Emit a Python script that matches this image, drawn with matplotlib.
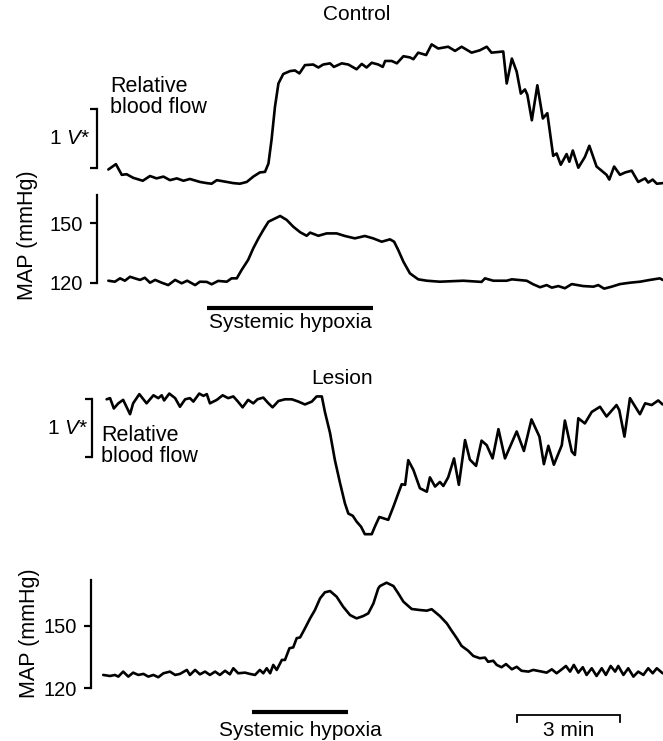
import numpy as np
import matplotlib
matplotlib.use('Agg')
import matplotlib.pyplot as plt

plt.rcParams['font.family'] = ['Liberation Sans', 'DejaVu Sans']
plt.rcParams['mathtext.fontset'] = 'custom'
plt.rcParams['mathtext.rm'] = 'Liberation Sans'
plt.rcParams['mathtext.it'] = 'Liberation Sans:italic'

# ---- data (time in min, flow in V*, MAP in mmHg) ----
ctrl_flow_t = [0.01, 0.23, 0.40, 0.54, 0.73, 1.01, 1.22, 1.41, 1.61, 1.80, 2.00, 2.19, 2.38, 2.67,
               2.87, 3.01, 3.16, 3.45, 3.64, 3.83, 4.03, 4.22, 4.41, 4.56, 4.66, 4.75, 4.85, 4.95,
               5.09, 5.29, 5.43, 5.56, 5.72, 5.96, 6.11, 6.25, 6.45, 6.56, 6.79, 6.98, 7.22, 7.37,
               7.51, 7.66, 7.85, 7.98, 8.05, 8.24, 8.39, 8.58, 8.77, 8.87, 9.01, 9.24, 9.40, 9.59,
               9.88, 10.08, 10.27, 10.56, 10.80, 11.00, 11.14, 11.48, 11.58, 11.73, 11.87, 11.99,
               12.11, 12.18, 12.31, 12.47, 12.63, 12.76, 12.93, 13.03, 13.15, 13.32, 13.40, 13.50,
               13.66, 13.85, 13.98, 14.19, 14.48, 14.56, 14.70, 14.87, 15.02, 15.21, 15.40, 15.60,
               15.69, 15.82, 15.94, 16.11]
ctrl_flow_v = [-0.02, 0.07, -0.11, -0.10, -0.16, -0.21, -0.13, -0.17, -0.14, -0.20, -0.17, -0.21,
               -0.18, -0.23, -0.25, -0.26, -0.20, -0.23, -0.25, -0.26, -0.23, -0.14, -0.07, -0.06,
               0.08, 0.48, 1.04, 1.43, 1.59, 1.64, 1.65, 1.60, 1.74, 1.75, 1.70, 1.75, 1.77, 1.71,
               1.77, 1.75, 1.67, 1.76, 1.70, 1.78, 1.75, 1.71, 1.81, 1.81, 1.77, 1.89, 1.87, 1.84,
               1.95, 1.91, 2.09, 2.02, 2.05, 1.98, 2.05, 1.95, 1.99, 2.05, 1.95, 1.97, 1.43, 1.85,
               1.63, 1.26, 1.33, 1.24, 0.81, 1.40, 0.84, 0.93, 0.21, 0.25, 0.06, 0.24, 0.11, 0.30,
               0.01, 0.19, 0.38, 0.03, -0.11, -0.19, 0.03, -0.11, -0.07, -0.04, -0.23, -0.17, -0.24,
               -0.19, -0.26, -0.25]

ctrl_map_t = [0.01, 0.20, 0.35, 0.49, 0.64, 0.78, 0.93, 1.07, 1.22, 1.37, 1.56, 1.75, 1.95, 2.14,
              2.30, 2.53, 2.67, 2.87, 3.01, 3.20, 3.45, 3.59, 3.74, 3.88, 4.07, 4.22, 4.37, 4.51,
              4.66, 4.80, 5.00, 5.19, 5.38, 5.58, 5.77, 5.87, 6.11, 6.35, 6.64, 6.88, 7.17, 7.46,
              7.70, 7.95, 8.19, 8.31, 8.43, 8.58, 8.77, 9.01, 9.26, 9.64, 10.32, 10.85, 10.95,
              11.19, 11.58, 11.73, 12.16, 12.35, 12.55, 12.74, 12.89, 13.08, 13.27, 13.47, 13.80,
              14.10, 14.24, 14.41, 14.63, 14.87, 15.16, 15.45, 15.74, 16.03, 16.11]
ctrl_map_p = [121.0, 120.5, 122.2, 121.0, 123.0, 122.2, 121.4, 122.5, 120.0, 121.4, 120.0, 118.8,
              121.4, 119.7, 121.0, 118.8, 120.5, 120.4, 119.2, 120.9, 120.5, 122.2, 122.2, 126.4,
              131.5, 137.4, 142.4, 146.6, 150.8, 152.0, 153.7, 151.7, 148.3, 145.5, 143.7, 145.3,
              143.7, 144.9, 144.9, 143.6, 142.4, 143.6, 142.4, 140.7, 141.9, 140.7, 136.5, 130.6,
              124.7, 121.7, 121.0, 120.5, 121.0, 120.4, 122.2, 121.0, 121.0, 121.7, 121.0, 119.2,
              117.7, 118.8, 117.5, 118.3, 117.2, 119.3, 118.3, 118.0, 118.8, 117.0, 118.0, 119.3,
              120.0, 120.5, 121.4, 122.2, 121.4]

les_flow_t = [-0.04, 0.06, 0.17, 0.30, 0.44, 0.64, 0.73, 0.91, 1.12, 1.32, 1.46, 1.56, 1.63, 1.78,
              1.95, 2.09, 2.24, 2.38, 2.48, 2.65, 2.77, 2.87, 2.96, 3.16, 3.33, 3.49, 3.64, 3.76,
              3.91, 4.07, 4.22, 4.34, 4.51, 4.66, 4.78, 4.95, 5.14, 5.34, 5.53, 5.72, 5.92, 6.06,
              6.21, 6.30, 6.45, 6.59, 6.74, 6.88, 6.98, 7.11, 7.22, 7.35, 7.46, 7.66, 7.75, 7.88,
              8.14, 8.29, 8.43, 8.53, 8.63, 8.72, 8.87, 9.06, 9.26, 9.35, 9.50, 9.64, 9.74, 9.88,
              10.05, 10.19, 10.37, 10.51, 10.69, 10.85, 11.00, 11.17, 11.34, 11.53, 11.87, 12.08,
              12.30, 12.53, 12.66, 12.79, 12.95, 13.18, 13.27, 13.47, 13.56, 13.66, 13.85, 14.05,
              14.29, 14.48, 14.77, 14.85, 15.00, 15.16, 15.45, 15.60, 15.79, 15.98, 16.11]
les_flow_v = [1.00, 1.02, 0.84, 0.93, 0.99, 0.74, 0.93, 1.09, 0.93, 1.07, 1.02, 1.07, 0.98, 1.10,
              1.02, 0.87, 1.00, 1.02, 0.96, 1.10, 1.06, 1.09, 0.93, 0.99, 1.07, 1.02, 1.05, 0.97,
              0.86, 0.99, 0.93, 1.00, 1.03, 0.93, 0.86, 0.97, 1.00, 1.00, 0.96, 0.91, 0.96, 1.05,
              1.05, 0.78, 0.41, -0.06, -0.46, -0.81, -0.99, -1.03, -1.13, -1.22, -1.35, -1.35,
              -1.22, -1.05, -1.10, -0.87, -0.64, -0.48, -0.49, -0.06, -0.23, -0.55, -0.61, -0.36,
              -0.52, -0.44, -0.51, -0.36, -0.03, -0.49, 0.29, -0.05, -0.16, 0.28, 0.20, -0.03,
              0.48, -0.03, 0.44, 0.10, 0.65, 0.35, -0.13, 0.19, -0.14, 0.20, 0.63, 0.09, 0.03,
              0.67, 0.58, 0.78, 0.87, 0.70, 0.90, 0.81, 0.35, 1.02, 0.74, 0.93, 0.90, 0.98, 0.91]

les_map_t = [-0.14, 0.06, 0.20, 0.30, 0.44, 0.59, 0.73, 0.88, 1.03, 1.17, 1.32, 1.46, 1.61, 1.80,
             1.95, 2.09, 2.29, 2.38, 2.53, 2.67, 2.82, 2.96, 3.11, 3.25, 3.40, 3.54, 3.64, 3.78,
             3.98, 4.12, 4.27, 4.41, 4.51, 4.61, 4.71, 4.80, 4.90, 5.05, 5.14, 5.27, 5.38, 5.48,
             5.58, 5.72, 5.87, 6.01, 6.16, 6.30, 6.45, 6.64, 6.83, 7.03, 7.22, 7.41, 7.56, 7.71,
             7.85, 7.90, 8.09, 8.29, 8.43, 8.58, 8.82, 9.06, 9.26, 9.40, 9.64, 9.84, 9.98, 10.13,
             10.27, 10.46, 10.61, 10.80, 10.95, 11.04, 11.19, 11.29, 11.43, 11.56, 11.73, 11.87,
             12.01, 12.21, 12.35, 12.60, 12.74, 12.89, 13.03, 13.18, 13.30, 13.42, 13.53, 13.66,
             13.79, 13.90, 14.05, 14.19, 14.34, 14.46, 14.60, 14.73, 14.82, 14.97, 15.11, 15.26,
             15.40, 15.55, 15.69, 15.82, 15.94, 16.11]
les_map_p = [126.4, 125.9, 126.4, 125.6, 128.0, 125.6, 127.5, 126.4, 126.9, 125.6, 126.4, 125.3,
             127.2, 128.0, 126.4, 126.9, 128.8, 126.4, 128.8, 126.7, 128.0, 126.4, 128.0, 126.4,
             128.4, 126.7, 129.6, 127.2, 127.5, 126.9, 126.4, 128.8, 127.2, 129.6, 127.2, 131.2,
             128.8, 133.6, 133.6, 139.2, 139.6, 144.0, 144.4, 148.7, 153.5, 157.5, 163.1, 166.0,
             166.6, 163.9, 159.1, 155.1, 153.5, 154.6, 155.9, 160.7, 167.9, 169.0, 170.6, 169.0,
             165.5, 161.5, 158.0, 157.5, 157.2, 157.9, 154.6, 151.1, 147.6, 144.0, 140.3, 138.0,
             135.5, 134.4, 134.7, 132.7, 133.2, 131.2, 130.1, 131.6, 129.1, 130.3, 128.4, 128.0,
             128.8, 128.0, 127.5, 129.1, 127.2, 129.1, 130.7, 128.0, 131.2, 127.5, 130.1, 126.4,
             129.6, 125.9, 129.6, 126.4, 130.7, 128.0, 130.7, 126.4, 129.6, 125.6, 128.0, 126.4,
             129.6, 127.2, 129.6, 127.2]

hypoxia_ctrl = [2.88, 7.70]     # min
hypoxia_les = [4.17, 6.98]      # min
scale_bar = [11.88, 14.88]      # 3 min

# ---- layout (pixels of a 663 x 741 figure) ----
W, H = 663, 741
PX_PER_MIN = 34.43
T0_PX = 108


def trace_axes(fig, anchor_px, anchor_val, px_per_unit):
    ax = fig.add_axes([0, 0, 1, 1])
    ax.set_xlim(-T0_PX / PX_PER_MIN, (W - T0_PX) / PX_PER_MIN)
    ax.set_ylim(anchor_val - (H - anchor_px) / px_per_unit,
                anchor_val + anchor_px / px_per_unit)
    ax.patch.set_visible(False)
    for s in ax.spines.values():
        s.set_visible(False)
    ax.set_xticks([])
    ax.set_yticks([])
    return ax


def left_scale(ax, x_t, lo, hi, ticks, labels):
    sp = ax.spines['left']
    sp.set_visible(True)
    sp.set_position(('data', x_t))
    sp.set_bounds(lo, hi)
    sp.set_linewidth(1.6)
    ax.set_yticks(ticks, labels)
    ax.tick_params(axis='y', direction='out', length=5, width=1.6, pad=5, labelsize=14.5)


def yfrac(px):
    return 1 - px / H


fig = plt.figure(figsize=(W / 100, H / 100), dpi=100)
line_kw = dict(color='black', lw=1.9, solid_joinstyle='round', solid_capstyle='round')

# Control: relative blood flow
ax_cf = trace_axes(fig, 168.3, 0.0, 59.3)
ax_cf.plot(ctrl_flow_t, ctrl_flow_v, **line_kw)
left_scale(ax_cf, -0.33, 0, 1, [0, 1], ['', ''])
ax_cf.annotate('1 $V$*', xy=(-0.33, 0.5), xytext=(-5, 0), textcoords='offset points',
               ha='right', va='center', fontsize=15)
ax_cf.text(0.06, 1.20, 'Relative\nblood flow', ha='left', va='center', fontsize=15.5,
           linespacing=1.0)

# Control: MAP
ax_cm = trace_axes(fig, 282.7, 120.0, 1.98)
ax_cm.plot(ctrl_map_t, ctrl_map_p, **line_kw)
left_scale(ax_cm, -0.33, 120, 164.3, [120, 150], ['120', '150'])
xt = ax_cm.get_xaxis_transform()
ax_cm.plot(hypoxia_ctrl, [yfrac(308)] * 2, transform=xt, color='black', lw=3,
           solid_capstyle='butt')
ax_cm.text(np.mean(hypoxia_ctrl), yfrac(322), 'Systemic hypoxia', transform=xt,
           ha='center', va='center', fontsize=15)

# Lesion: relative blood flow
ax_lf = trace_axes(fig, 456.7, 0.0, 57.4)
ax_lf.plot(les_flow_t, les_flow_v, **line_kw)
left_scale(ax_lf, -0.465, 0, 1, [0, 1], ['', ''])
ax_lf.annotate('1 $V$*', xy=(-0.465, 0.5), xytext=(-3, 0), textcoords='offset points',
               ha='right', va='center', fontsize=15)
ax_lf.text(-0.20, 0.19, 'Relative\nblood flow', ha='left', va='center', fontsize=15.5,
           linespacing=1.0)

# Lesion: MAP
ax_lm = trace_axes(fig, 688.3, 120.0, 2.087)
ax_lm.plot(les_map_t, les_map_p, **line_kw)
left_scale(ax_lm, -0.50, 120, 171.9, [120, 150], ['120', '150'])
xt = ax_lm.get_xaxis_transform()
ax_lm.plot(hypoxia_les, [yfrac(711.7)] * 2, transform=xt, color='black', lw=3,
           solid_capstyle='butt')
ax_lm.text(np.mean(hypoxia_les), yfrac(730), 'Systemic hypoxia', transform=xt,
           ha='center', va='center', fontsize=15)
ax_lm.plot([scale_bar[0], scale_bar[0], scale_bar[1], scale_bar[1]],
           [yfrac(721.7), yfrac(715), yfrac(715), yfrac(721.7)], transform=xt,
           color='black', lw=1.3, solid_joinstyle='miter')
ax_lm.text(np.mean(scale_bar), yfrac(730), '3 min', transform=xt,
           ha='center', va='center', fontsize=15)

# titles and MAP labels
fig.text(357 / W, yfrac(15), 'Control', ha='center', va='center', fontsize=15)
fig.text(342 / W, yfrac(378), 'Lesion', ha='center', va='center', fontsize=15)
fig.text(27 / W, yfrac(235), 'MAP (mmHg)', rotation=90, ha='center', va='center', fontsize=15.5)
fig.text(30 / W, yfrac(633), 'MAP (mmHg)', rotation=90, ha='center', va='center', fontsize=15.5)

fig.savefig('out.png', dpi=100)
